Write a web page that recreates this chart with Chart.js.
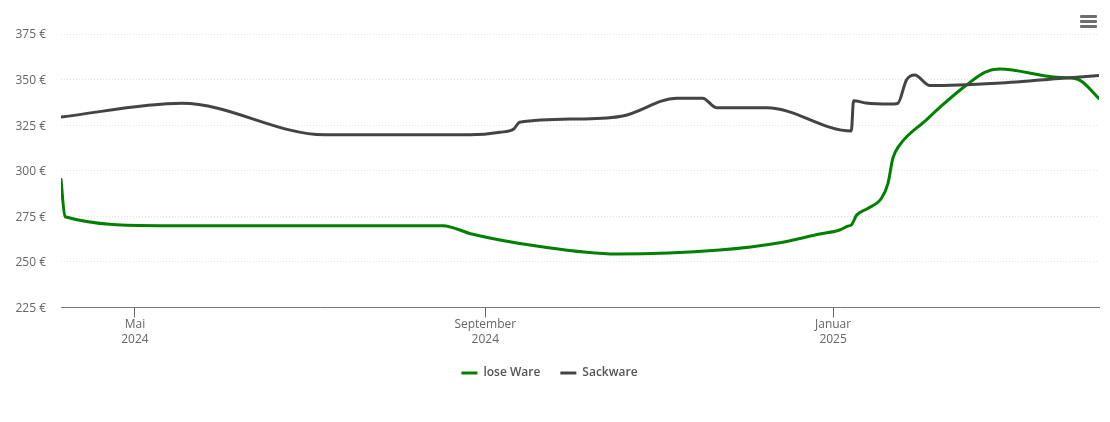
<!DOCTYPE html>
<html lang="de">
<head>
<meta charset="utf-8">
<title>Preisentwicklung</title>
<script src="https://cdn.jsdelivr.net/npm/chart.js@4"></script>
<style>
	html, body { margin: 0; padding: 0; background: #fff; overflow: hidden; }
	#wrap { position: relative; width: 1110px; height: 422px; }
	#menu { position: absolute; left: 1080px; top: 15px; width: 17px; }
	#menu span { display: block; height: 3px; margin-bottom: 2px; border-radius: 1px; background: #6e6e6e; }
</style>
</head>
<body>
<div id="wrap">
	<canvas id="chart"></canvas>
	<div id="menu"><span></span><span></span><span></span></div>
</div>
<script>
// x values are days since 5 April 2024
const seriesNames = ['lose Ware', 'Sackware'];

const loseDays = [0, 1.4, 34.8, 134.3, 144.4, 168.4, 195.4, 231.6, 252.7, 266.8, 273.8, 276.6, 278, 279.8, 283.8, 288.5, 290.8, 292.5, 294.9, 304.3, 310, 318.4, 324.8, 330, 350, 357.5, 365];
const loseValues = [295.2, 274.8, 269.9, 269.9, 265.3, 258.4, 254.3, 256.5, 260.5, 265.3, 267.5, 269.6, 270.4, 275.7, 279.4, 284.9, 293.1, 306.8, 314.1, 327.9, 336.1, 347, 354, 355.8, 351.3, 350.2, 339.6];

const sackDays = [0, 42.5, 92.8, 143.8, 154.3, 159.2, 161.3, 182.4, 197.5, 216.5, 225.6, 230.5, 248.2, 277.9, 278.7, 283, 291.4, 294.2, 297.3, 300.2, 305.5, 329, 352.2, 365];
const sackValues = [329.5, 337, 319.7, 319.7, 321.1, 322.9, 326.6, 328.4, 330, 339.8, 339.8, 334.6, 334.6, 321.8, 338.4, 337.2, 336.6, 336.9, 349.8, 352.5, 346.7, 348, 350.7, 352.3];

const monthTickDays = [26, 149.2, 271.5];
const monthTickLabels = [['Mai', '2024'], ['September', '2024'], ['Januar', '2025']];

const fontFamily = '"Open Sans", "Noto Sans", sans-serif';

function toPoints(days, values) {
	return days.map((d, i) => ({ x: d, y: values[i] }));
}

new Chart(document.getElementById('chart'), {
	type: 'line',
	data: {
		datasets: [
			{
				label: seriesNames[0],
				data: toPoints(loseDays, loseValues),
				borderColor: '#008000',
				backgroundColor: '#008000',
				order: 2
			},
			{
				label: seriesNames[1],
				data: toPoints(sackDays, sackValues),
				borderColor: '#444444',
				backgroundColor: '#444444',
				order: 1
			}
		]
	},
	options: {
		responsive: true,
		maintainAspectRatio: false,
		animation: false,
		layout: { padding: { top: 34, right: 11, bottom: 33, left: 0 } },
		datasets: {
			line: { borderWidth: 3, pointRadius: 0, cubicInterpolationMode: 'monotone', borderCapStyle: 'round' }
		},
		scales: {
			x: {
				type: 'linear',
				min: 0,
				max: 365,
				afterBuildTicks(scale) {
					scale.ticks = monthTickDays.map(d => ({ value: d }));
				},
				afterFit(scale) { scale.height = 39.5; },
				border: { color: '#777777', width: 1 },
				grid: { drawOnChartArea: false, tickLength: 10, tickColor: '#666666' },
				ticks: {
					autoSkip: false,
					maxRotation: 0,
					padding: 0,
					color: '#666666',
					font: { family: fontFamily, size: 12 },
					callback(value) {
						return monthTickLabels[monthTickDays.indexOf(value)];
					}
				}
			},
			y: {
				min: 225,
				max: 375,
				afterFit(scale) { scale.width = 61; },
				border: { display: false, dash: [1, 2] },
				grid: {
					drawTicks: false,
					color: '#e2e2e2',
					lineWidth: 1
				},
				ticks: {
					stepSize: 25,
					padding: 15,
					labelOffset: 1,
					color: '#666666',
					font: { family: fontFamily, size: 12 },
					callback: value => value + ' €'
				}
			}
		},
		plugins: {
			tooltip: { enabled: false },
			legend: {
				position: 'bottom',
				labels: {
					usePointStyle: true,
					pointStyle: 'line',
					pointStyleWidth: 16,
					padding: 20,
					color: '#555555',
					font: { family: fontFamily, size: 12, weight: '600' },
					sort: (a, b) => a.datasetIndex - b.datasetIndex
				}
			}
		}
	}
});
</script>
</body>
</html>
